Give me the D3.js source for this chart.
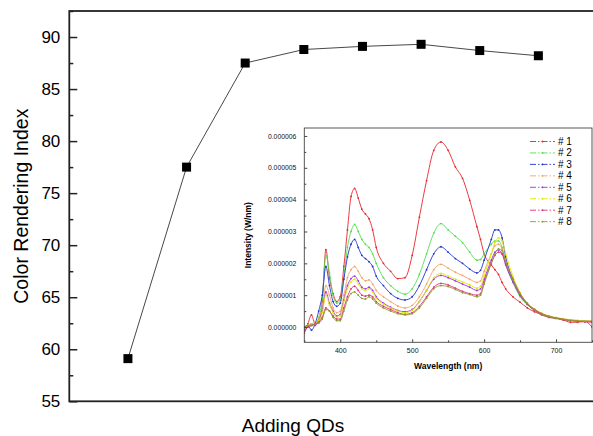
<!DOCTYPE html>
<html>
<head>
<meta charset="utf-8">
<script src="https://cdn.jsdelivr.net/npm/d3@7"></script>
<style>
  body { margin: 0; background: #fff; }
  svg { display: block; font-family: Arial, 'Liberation Sans', sans-serif; }
</style>
</head>
<body>
<svg width="593" height="436"></svg>
<script>
'use strict'

// main chart: colour rendering index vs. QD addition step
const steps = [1, 2, 3, 4, 5, 6, 7, 8]
const cri = [59.1, 77.5, 87.5, 88.8, 89.1, 89.3, 88.7, 88.2]
const criTicks = [55, 60, 65, 70, 75, 80, 85, 90]
const criMinor = [57.5, 62.5, 67.5, 72.5, 77.5, 82.5, 87.5, 92.5]

// inset: spectra, intensity in units of 1e-6 W/nm
const wavelength = [350, 355, 360, 365, 370, 375, 380, 385, 390, 395, 400, 405, 410, 415, 420, 425, 430, 435, 440, 445,
  450, 460, 470, 480, 490, 500, 510, 520, 530, 540, 550, 560, 570, 580, 590, 595, 600, 610, 615, 620, 625, 630,
  640, 650, 660, 670, 680, 690, 700, 710, 720, 730, 740, 750]
const s1 = [-0.2, 0.1, 0.38, 0.1, 0.15, 0.8, 2.43, 1.55, 1.05, 0.8, 0.95, 1.9, 3.05, 4.1, 4.35, 4.05, 3.7, 3.55, 3.4, 3.05,
  2.5, 2.0, 1.75, 1.52, 1.55, 2.25, 3.45, 4.6, 5.55, 5.81, 5.55, 5.03, 4.67, 3.98, 3.15, 2.75, 2.3, 1.95, 1.8, 1.65, 1.4, 1.2,
  0.95, 0.78, 0.6, 0.48, 0.38, 0.3, 0.27, 0.22, 0.15, 0.15, 0.18, 0.0]
const s2 = [0.0, 0.0, 0.05, 0.1, 0.3, 0.9, 2.25, 1.7, 1.0, 0.75, 0.85, 1.6, 2.5, 3.0, 3.22, 3.0, 2.75, 2.6, 2.5, 2.3,
  2.0, 1.55, 1.3, 1.12, 1.03, 1.2, 1.65, 2.3, 2.95, 3.25, 3.05, 2.85, 2.65, 2.35, 2.1, 2.12, 2.3, 2.6, 2.7, 2.7, 2.5, 2.0,
  1.4, 0.95, 0.7, 0.52, 0.4, 0.32, 0.27, 0.24, 0.21, 0.19, 0.18, 0.18]
const s3 = [0.0, 0.05, -0.1, 0.1, 0.5, 1.0, 1.9, 1.3, 0.8, 0.65, 0.75, 1.5, 2.2, 2.6, 2.75, 2.5, 2.25, 2.15, 2.05, 1.9,
  1.6, 1.3, 1.05, 0.9, 0.85, 0.95, 1.3, 1.8, 2.3, 2.52, 2.35, 2.15, 2.0, 1.82, 1.7, 1.78, 2.1, 2.75, 3.05, 3.05, 2.8, 2.2,
  1.5, 1.0, 0.72, 0.53, 0.41, 0.33, 0.28, 0.24, 0.21, 0.19, 0.18, 0.18]
const s4 = [-0.05, 0.05, 0.1, 0.1, 0.25, 0.6, 1.3, 1.0, 0.6, 0.45, 0.5, 1.0, 1.55, 1.8, 1.9, 1.75, 1.55, 1.45, 1.48, 1.35,
  1.15, 0.95, 0.8, 0.66, 0.6, 0.68, 0.95, 1.35, 1.8, 1.97, 1.85, 1.72, 1.62, 1.5, 1.4, 1.45, 1.75, 2.3, 2.55, 2.6, 2.45, 2.05,
  1.45, 1.0, 0.72, 0.54, 0.42, 0.34, 0.29, 0.25, 0.22, 0.2, 0.19, 0.18]
const s5 = [-0.1, 0.0, 0.1, 0.05, 0.2, 0.5, 1.1, 0.75, 0.5, 0.35, 0.4, 0.85, 1.3, 1.52, 1.6, 1.45, 1.25, 1.2, 1.25, 1.15,
  0.95, 0.75, 0.62, 0.52, 0.48, 0.55, 0.8, 1.15, 1.5, 1.62, 1.55, 1.45, 1.35, 1.25, 1.15, 1.2, 1.5, 2.1, 2.35, 2.42, 2.3, 1.95,
  1.42, 1.0, 0.72, 0.54, 0.42, 0.34, 0.29, 0.25, 0.22, 0.2, 0.19, 0.18]
const s6 = [-0.05, 0.05, 0.1, 0.1, 0.2, 0.45, 1.0, 0.7, 0.45, 0.3, 0.35, 0.8, 1.2, 1.42, 1.5, 1.35, 1.2, 1.15, 1.2, 1.1,
  0.9, 0.72, 0.6, 0.5, 0.45, 0.52, 0.8, 1.15, 1.55, 1.68, 1.6, 1.5, 1.42, 1.32, 1.22, 1.28, 1.6, 2.3, 2.65, 2.8, 2.7, 2.3,
  1.6, 1.08, 0.76, 0.57, 0.44, 0.35, 0.3, 0.26, 0.23, 0.21, 0.19, 0.19]
const s7 = [-0.15, 0.0, 0.05, 0.1, 0.15, 0.3, 0.6, 0.5, 0.35, 0.25, 0.25, 0.6, 0.95, 1.2, 1.28, 1.15, 1.0, 0.97, 1.0, 0.95,
  0.8, 0.65, 0.55, 0.45, 0.4, 0.45, 0.65, 0.95, 1.25, 1.37, 1.32, 1.22, 1.12, 1.05, 1.0, 1.05, 1.4, 2.0, 2.25, 2.35, 2.3, 2.0,
  1.5, 1.05, 0.74, 0.55, 0.42, 0.33, 0.28, 0.24, 0.2, 0.18, 0.16, 0.15]
const s8 = [-0.05, 0.05, 0.05, 0.1, 0.12, 0.25, 0.55, 0.5, 0.3, 0.2, 0.2, 0.5, 0.85, 1.05, 1.1, 1.0, 0.9, 0.88, 0.95, 0.88,
  0.75, 0.6, 0.5, 0.42, 0.38, 0.42, 0.6, 0.9, 1.2, 1.3, 1.27, 1.18, 1.08, 1.02, 0.95, 1.0, 1.35, 2.0, 2.3, 2.45, 2.4, 2.05,
  1.5, 1.05, 0.74, 0.55, 0.42, 0.33, 0.28, 0.24, 0.21, 0.19, 0.18, 0.17]
const seriesNames = ['# 1', '# 2', '# 3', '# 4', '# 5', '# 6', '# 7', '# 8']
const seriesValues = [s1, s2, s3, s4, s5, s6, s7, s8]
const seriesColors = ['#e8262b', '#4fe04f', '#2233d0', '#f2a464', '#9a35e8', '#e6e600', '#e0307c', '#8c9c34']
const wlTicks = [400, 500, 600, 700]
const wlMinor = [350, 450, 550, 650, 750]
const intTicks = [0, 1, 2, 3, 4, 5, 6]
const intMinor = [0.5, 1.5, 2.5, 3.5, 4.5, 5.5]

const svg = d3.select('svg')

// ---- main chart ----
const x = d3.scaleLinear().domain([0, 9]).range([69.3, 597])
const y = d3.scaleLinear().domain([55, 92.5]).range([401.3, 11])

const yAxis = svg.append('g')
  .attr('transform', 'translate(' + x(0) + ',0)')
  .call(d3.axisLeft(y).tickValues(criTicks).tickSize(-8).tickPadding(9))
yAxis.select('.domain').remove()
yAxis.selectAll('line').attr('stroke', '#222').attr('stroke-width', 1.5)
yAxis.selectAll('text').attr('font-size', 17).attr('fill', '#000')

const yMinor = svg.append('g')
  .attr('transform', 'translate(' + x(0) + ',0)')
  .call(d3.axisLeft(y).tickValues(criMinor).tickSize(-4).tickFormat(''))
yMinor.select('.domain').remove()
yMinor.selectAll('line').attr('stroke', '#222').attr('stroke-width', 1.5)

svg.append('rect')
  .attr('x', x(0)).attr('y', y(92.5))
  .attr('width', x(9) - x(0)).attr('height', y(55) - y(92.5))
  .attr('fill', 'none').attr('stroke', '#222').attr('stroke-width', 1.8)

svg.append('text')
  .attr('transform', 'translate(28,' + (y(55) + y(92.5)) / 2 + ') rotate(-90)')
  .attr('text-anchor', 'middle')
  .attr('font-size', 19.5)
  .text('Color Rendering Index')

svg.append('text')
  .attr('x', 293).attr('y', 432)
  .attr('text-anchor', 'middle')
  .attr('font-size', 19)
  .text('Adding QDs')

svg.append('path')
  .datum(steps)
  .attr('fill', 'none')
  .attr('stroke', '#333')
  .attr('stroke-width', 0.9)
  .attr('d', d3.line().x(d => x(d)).y((d, i) => y(cri[i])))

svg.append('g')
  .selectAll('rect')
  .data(steps)
  .enter()
  .append('rect')
  .attr('x', d => x(d) - 4.5)
  .attr('y', (d, i) => y(cri[i]) - 4.5)
  .attr('width', 9)
  .attr('height', 9)
  .attr('fill', '#000')

// ---- inset ----
const ix = d3.scaleLinear().domain([350, 750]).range([304.3, 592])
const iy = d3.scaleLinear().domain([-0.48, 6.25]).range([342.3, 128])

svg.append('rect')
  .attr('x', ix(350)).attr('y', iy(6.25))
  .attr('width', ix(750) - ix(350)).attr('height', iy(-0.48) - iy(6.25))
  .attr('fill', '#fff')

svg.append('clipPath').attr('id', 'inset-clip')
  .append('rect')
  .attr('x', ix(350)).attr('y', iy(6.25))
  .attr('width', ix(750) - ix(350)).attr('height', iy(-0.48) - iy(6.25))

const plot = svg.append('g').attr('clip-path', 'url(#inset-clip)')
const line = d3.line()
  .curve(d3.curveMonotoneX)
  .x(d => ix(d[0]))
  .y(d => iy(d[1]))

seriesValues.forEach((vals, k) => {
  const pts = wavelength.map((w, i) => [w, vals[i]])
  plot.append('path')
    .datum(pts)
    .attr('fill', 'none')
    .attr('stroke', seriesColors[k])
    .attr('stroke-width', 0.9)
    .attr('d', line)
  plot.append('g')
    .selectAll('circle')
    .data(pts)
    .enter()
    .append('circle')
    .attr('cx', d => ix(d[0]))
    .attr('cy', d => iy(d[1]))
    .attr('r', 0.9)
    .attr('fill', seriesColors[k])
})

svg.append('rect')
  .attr('x', ix(350)).attr('y', iy(6.25))
  .attr('width', ix(750) - ix(350)).attr('height', iy(-0.48) - iy(6.25))
  .attr('fill', 'none').attr('stroke', '#444').attr('stroke-width', 0.9)

const ixAxis = svg.append('g')
  .attr('transform', 'translate(0,' + iy(-0.48) + ')')
  .call(d3.axisBottom(ix).tickValues(wlTicks).tickSize(-3).tickPadding(6))
ixAxis.select('.domain').remove()
ixAxis.selectAll('line').attr('stroke', '#444')
ixAxis.selectAll('text').attr('font-size', 7).attr('fill', '#111')

const ixMinor = svg.append('g')
  .attr('transform', 'translate(0,' + iy(-0.48) + ')')
  .call(d3.axisBottom(ix).tickValues(wlMinor).tickSize(-2).tickFormat(''))
ixMinor.select('.domain').remove()
ixMinor.selectAll('line').attr('stroke', '#444')

const iyAxis = svg.append('g')
  .attr('transform', 'translate(' + ix(350) + ',0)')
  .call(d3.axisLeft(iy).tickValues(intTicks).tickSize(-3).tickPadding(8)
    .tickFormat(d => d3.format('.6f')(d * 1e-6)))
iyAxis.select('.domain').remove()
iyAxis.selectAll('line').attr('stroke', '#444')
iyAxis.selectAll('text').attr('font-size', 6.8).attr('fill', '#111')

const iyMinor = svg.append('g')
  .attr('transform', 'translate(' + ix(350) + ',0)')
  .call(d3.axisLeft(iy).tickValues(intMinor).tickSize(-2).tickFormat(''))
iyMinor.select('.domain').remove()
iyMinor.selectAll('line').attr('stroke', '#444')

svg.append('text')
  .attr('x', (ix(350) + ix(750)) / 2).attr('y', 369)
  .attr('text-anchor', 'middle')
  .attr('font-size', 8.5)
  .attr('font-weight', 'bold')
  .text('Wavelength (nm)')

svg.append('text')
  .attr('transform', 'translate(251,' + (iy(-0.48) + iy(6.25)) / 2 + ') rotate(-90)')
  .attr('text-anchor', 'middle')
  .attr('font-size', 8.5)
  .attr('font-weight', 'bold')
  .text('Intensity (W/nm)')

// legend
const legend = svg.append('g')
  .selectAll('g')
  .data(seriesNames)
  .enter()
  .append('g')
  .attr('transform', (d, i) => 'translate(530,' + (141.5 + i * 11.45) + ')')

legend.append('line')
  .attr('x1', 0).attr('x2', 25)
  .attr('stroke', (d, i) => seriesColors[i])
  .attr('stroke-width', 0.9)
  .attr('stroke-dasharray', '6,2,1.5,2')
legend.append('circle')
  .attr('cx', 12.5).attr('r', 0.9)
  .attr('fill', (d, i) => seriesColors[i])
legend.append('text')
  .attr('x', 28).attr('dy', '0.35em')
  .attr('font-size', 10)
  .text(d => d)
</script>
</body>
</html>
